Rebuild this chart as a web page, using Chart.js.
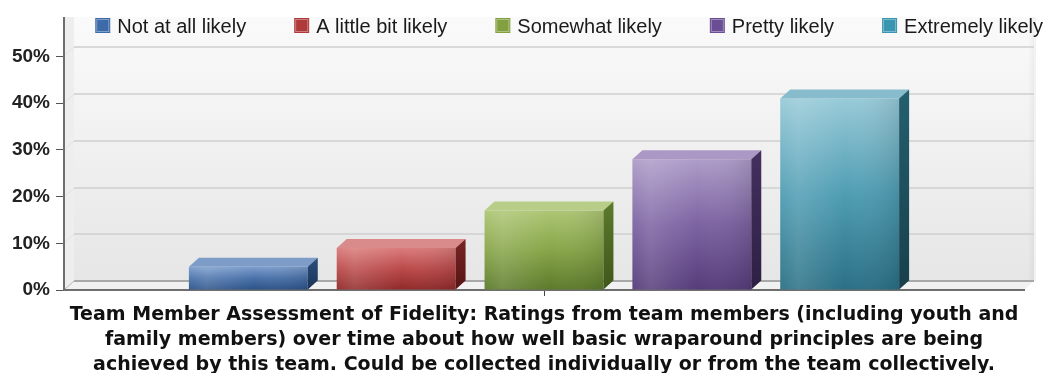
<!DOCTYPE html>
<html>
<head>
<meta charset="utf-8">
<script src="https://cdn.jsdelivr.net/npm/chart.js@4.4.0/dist/chart.umd.min.js"></script>
<style>
  html, body { margin: 0; padding: 0; background: #fff; }
  #wrap { width: 1047px; height: 373px; position: relative; }
</style>
</head>
<body>
<div id="wrap"><canvas id="ratingChart"></canvas></div>
<script>
// Fidelity ratings, percent of responses per likelihood level
const categories = [''];
const seriesLabels = ['Not at all likely', 'A little bit likely', 'Somewhat likely', 'Pretty likely', 'Extremely likely'];
const seriesValues = [5, 9, 17, 28, 41];
const yTickValues = [0, 10, 20, 30, 40, 50];
const axisTitleLines = [
    'Team Member Assessment of Fidelity: Ratings from team members (including youth and',
    'family members) over time about how well basic wraparound principles are being',
    'achieved by this team. Could be collected individually or from the team collectively.'
];

const FONT = "'Liberation Sans', Arial, sans-serif";
const TITLE_FONT = "'DejaVu Sans', Verdana, sans-serif";
const DX = 10;   // depth offset, horizontal
const DY = 9;    // depth offset, vertical

// swatch colour, front face gradient (top -> bottom), top face, side face gradient
const palette = [
    { swatch: '#3d6aa8', front: ['#7d9ecd', '#4a72aa', '#2a5186'], top: '#7e9cc8', side: ['#2c4f7c', '#1a3457'] },
    { swatch: '#b03a3a', front: ['#da7b7b', '#bb4a4a', '#8f2828'], top: '#d98b8b', side: ['#7a2424', '#561414'] },
    { swatch: '#82a040', front: ['#adc674', '#87a548', '#5b7a2a'], top: '#b7cd88', side: ['#5c7a2c', '#3f561a'] },
    { swatch: '#6a4e93', front: ['#ae9cc8', '#7c63a2', '#553c7a'], top: '#ab98c4', side: ['#44305f', '#2e1f44'] },
    { swatch: '#3896b0', front: ['#98cad8', '#4f9db3', '#2a6f85'], top: '#86bccc', side: ['#24606f', '#183f4b'] }
];

// back wall, floor and gridlines of the 3D box
const wallPlugin = {
    id: 'wall',
    beforeDraw(chart) {
        const { ctx, chartArea: a, scales: { y } } = chart;
        const top = a.top - DY;
        ctx.save();

        const wall = ctx.createLinearGradient(0, top, 0, a.bottom - DY);
        wall.addColorStop(0, '#fafafa');
        wall.addColorStop(1, '#e6e6e6');
        ctx.fillStyle = wall;
        ctx.fillRect(a.left + DX, top, a.right - a.left, a.bottom - a.top);

        // left wall sliver
        ctx.fillStyle = '#eeeeee';
        ctx.beginPath();
        ctx.moveTo(a.left, top);
        ctx.lineTo(a.left + DX, top);
        ctx.lineTo(a.left + DX, a.bottom - DY);
        ctx.lineTo(a.left, a.bottom);
        ctx.closePath();
        ctx.fill();

        // floor
        ctx.fillStyle = '#f1f1f1';
        ctx.beginPath();
        ctx.moveTo(a.left, a.bottom);
        ctx.lineTo(a.left + DX, a.bottom - DY);
        ctx.lineTo(a.right + DX, a.bottom - DY);
        ctx.lineTo(a.right, a.bottom);
        ctx.closePath();
        ctx.fill();

        // right edge shade of the back wall
        const shade = ctx.createLinearGradient(a.right + DX - 6, 0, a.right + DX + 2, 0);
        shade.addColorStop(0, 'rgba(0,0,0,0)');
        shade.addColorStop(1, 'rgba(0,0,0,0.06)');
        ctx.fillStyle = shade;
        ctx.fillRect(a.right + DX - 6, top, 8, a.bottom - a.top);

        // gridlines on the back wall
        yTickValues.forEach(v => {
            const py = Math.round(y.getPixelForValue(v)) - DY;
            ctx.strokeStyle = v === 0 ? '#a8a8a8' : '#cfcfcf';
            ctx.lineWidth = v === 0 ? 2 : 1.6;
            ctx.beginPath();
            ctx.moveTo(a.left + DX, py);
            ctx.lineTo(a.right + DX, py);
            ctx.stroke();
            ctx.strokeStyle = v === 0 ? '#b5b5b5' : '#e2e2e2';
            ctx.lineWidth = 1;
            ctx.beginPath();
            ctx.moveTo(a.left, py + DY);
            ctx.lineTo(a.left + DX, py);
            ctx.stroke();
        });

        // axis line continues up to the top of the wall
        ctx.strokeStyle = '#6e6e6e';
        ctx.lineWidth = 2;
        ctx.beginPath();
        ctx.moveTo(a.left, top);
        ctx.lineTo(a.left, a.top + 1);
        ctx.stroke();

        ctx.restore();
    }
};

// top and side faces for each bar
const depthPlugin = {
    id: 'depth',
    afterDatasetsDraw(chart) {
        const ctx = chart.ctx;
        ctx.save();
        chart.data.datasets.forEach((ds, i) => {
            const meta = chart.getDatasetMeta(i);
            const p = palette[i];
            meta.data.forEach(bar => {
                const { x, y, base, width } = bar.getProps(['x', 'y', 'base', 'width'], true);
                const l = x - width / 2;
                const r = x + width / 2;

                // soft sheen across the front face
                const sheen = ctx.createLinearGradient(l, 0, r, 0);
                sheen.addColorStop(0, 'rgba(255,255,255,0.05)');
                sheen.addColorStop(0.15, 'rgba(255,255,255,0.14)');
                sheen.addColorStop(0.55, 'rgba(255,255,255,0)');
                sheen.addColorStop(1, 'rgba(0,0,0,0.10)');
                ctx.fillStyle = sheen;
                ctx.fillRect(l, y, width, base - y);

                ctx.fillStyle = p.top;
                ctx.beginPath();
                ctx.moveTo(l, y);
                ctx.lineTo(l + DX, y - DY);
                ctx.lineTo(r + DX, y - DY);
                ctx.lineTo(r, y);
                ctx.closePath();
                ctx.fill();

                const side = ctx.createLinearGradient(0, y - DY, 0, base);
                side.addColorStop(0, p.side[0]);
                side.addColorStop(1, p.side[1]);
                ctx.fillStyle = side;
                ctx.beginPath();
                ctx.moveTo(r, y);
                ctx.lineTo(r + DX, y - DY);
                ctx.lineTo(r + DX, base - DY);
                ctx.lineTo(r, base);
                ctx.closePath();
                ctx.fill();
            });
        });
        ctx.restore();
    }
};

// legend row across the top, right aligned
const legendPlugin = {
    id: 'swatchLegend',
    afterDraw(chart) {
        const ctx = chart.ctx;
        const box = 15, boxGap = 7, itemGap = 48, baseline = 33;
        ctx.save();
        ctx.font = '20px ' + FONT;
        ctx.textBaseline = 'alphabetic';
        const items = chart.data.datasets.map((ds, i) => ({
            text: ds.label,
            color: palette[i].swatch,
            w: ctx.measureText(ds.label).width
        }));
        const total = items.reduce((s, it) => s + box + boxGap + it.w, 0) + itemGap * (items.length - 1);
        let x = chart.width - 4 - total;
        items.forEach(it => {
            ctx.fillStyle = it.color;
            ctx.fillRect(x, baseline - box, box, box);
            ctx.strokeStyle = 'rgba(255,255,255,0.35)';
            ctx.lineWidth = 1;
            ctx.strokeRect(x + 1.5, baseline - box + 1.5, box - 3, box - 3);
            ctx.fillStyle = '#1a1a1a';
            ctx.fillText(it.text, x + box + boxGap, baseline);
            x += box + boxGap + it.w + itemGap;
        });
        ctx.restore();
    }
};

function frontGradient(context, i) {
    const chart = context.chart;
    const p = palette[i];
    if (!chart.chartArea) return p.front[1];
    const y = chart.scales.y;
    const g = chart.ctx.createLinearGradient(0, y.getPixelForValue(seriesValues[i]), 0, y.getPixelForValue(0));
    g.addColorStop(0, p.front[0]);
    g.addColorStop(0.5, p.front[1]);
    g.addColorStop(1, p.front[2]);
    return g;
}

const datasets = seriesLabels.map((label, i) => ({
    label: label,
    data: [seriesValues[i]],
    backgroundColor: (ctx) => frontGradient(ctx, i),
    borderWidth: 0
}));

new Chart(document.getElementById('ratingChart'), {
    type: 'bar',
    data: { labels: categories, datasets: datasets },
    plugins: [wallPlugin, depthPlugin, legendPlugin],
    options: {
        responsive: true,
        maintainAspectRatio: false,
        animation: false,
        layout: { padding: { top: 26, right: 23, bottom: 0, left: 0 } },
        datasets: { bar: { categoryPercentage: 0.77, barPercentage: 0.804 } },
        plugins: {
            legend: { display: false },
            tooltip: { enabled: false }
        },
        scales: {
            x: {
                grid: { display: true, drawOnChartArea: false, drawTicks: true, tickLength: 6, offset: false, color: '#444', lineWidth: 1 },
                border: { display: true, color: '#6e6e6e', width: 2 },
                ticks: { display: false },
                title: {
                    display: true,
                    text: axisTitleLines,
                    color: '#111',
                    font: { family: TITLE_FONT, size: 19, weight: 'bold', lineHeight: '25px' },
                    padding: { top: 0, bottom: -5 }
                },
                afterFit: (scale) => { scale.height = 83; }
            },
            y: {
                min: 0,
                max: 56.5,
                afterBuildTicks: (scale) => { scale.ticks = yTickValues.map(v => ({ value: v })); },
                grid: { drawOnChartArea: false, drawTicks: true, tickLength: 8, color: '#555', lineWidth: 1 },
                border: { display: true, color: '#6e6e6e', width: 2 },
                ticks: {
                    padding: 6,
                    color: '#222',
                    font: { family: FONT, size: 19, weight: 'bold' },
                    callback: (v) => v + '%'
                },
                afterFit: (scale) => { scale.width = 64; }
            }
        }
    }
});
</script>
</body>
</html>
